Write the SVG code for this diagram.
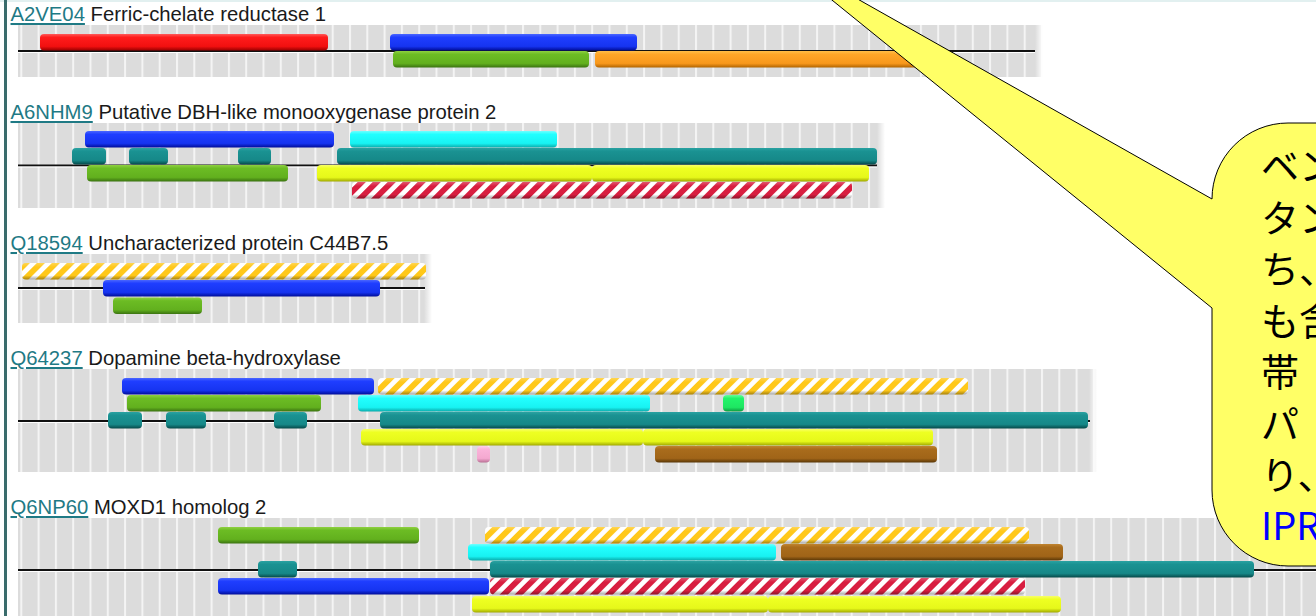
<svg xmlns="http://www.w3.org/2000/svg" width="1316" height="616" viewBox="0 0 1316 616">
  <style>
    .title { font-family: "Liberation Sans", Arial, sans-serif; font-size: 20.3px; fill: #1a1a1a; }
    .acc { fill: #1f7a85; text-decoration: underline; }
    .grid { fill: url(#ruler); }
    .seq { stroke: #111; stroke-width: 2; }
    .seqhi { stroke: #ffffff; stroke-width: 1; }
    .bar { rx: 4; ry: 4; }
    .red { fill: url(#gRed); }
    .blue { fill: url(#gBlue); }
    .green { fill: url(#gGreen); }
    .orange { fill: url(#gOrange); }
    .cyan { fill: url(#gCyan); }
    .teal { fill: url(#gTeal); }
    .yellow { fill: url(#gYellow); }
    .brown { fill: url(#gBrown); }
    .lime { fill: url(#gLime); }
    .pink { fill: url(#gPink); }
    .ystripe { fill: url(#stripeY); }
    .rstripe { fill: url(#stripeR); }
    .shade { fill: url(#gShade); }
    .callout { fill: #ffff66; stroke: #000; stroke-width: 1; }
    .note { font-family: "Noto Sans CJK JP", "Noto Sans", sans-serif; font-size: 38px; fill: #000; }
    .note-link { fill: #0000ff; }
  </style>
  <defs>
    <!-- ruler background: grey cells with light separators -->
    <pattern id="ruler" x="20.3" y="0" width="17.3" height="10" patternUnits="userSpaceOnUse">
      <rect width="17.3" height="10" fill="#dcdcdc"/>
      <rect width="2" height="10" fill="#f4f4f4"/>
    </pattern>
    <linearGradient id="fade" x1="0" y1="0" x2="1" y2="0">
      <stop offset="0" stop-color="#fff" stop-opacity="0"/>
      <stop offset="1" stop-color="#fff" stop-opacity="1"/>
    </linearGradient>
    <!-- bar shading gradients -->
    <linearGradient id="gRed" x1="0" y1="0" x2="0" y2="1">
      <stop offset="0" stop-color="#ff5a5a"/><stop offset="0.2" stop-color="#ff1c1c"/><stop offset="0.75" stop-color="#f21010"/><stop offset="1" stop-color="#9a0000"/>
    </linearGradient>
    <linearGradient id="gBlue" x1="0" y1="0" x2="0" y2="1">
      <stop offset="0" stop-color="#4a66ff"/><stop offset="0.2" stop-color="#1f3eff"/><stop offset="0.75" stop-color="#1634f0"/><stop offset="1" stop-color="#000c98"/>
    </linearGradient>
    <linearGradient id="gGreen" x1="0" y1="0" x2="0" y2="1">
      <stop offset="0" stop-color="#8fd040"/><stop offset="0.2" stop-color="#6cbc24"/><stop offset="0.75" stop-color="#62b01e"/><stop offset="1" stop-color="#3a7210"/>
    </linearGradient>
    <linearGradient id="gOrange" x1="0" y1="0" x2="0" y2="1">
      <stop offset="0" stop-color="#ffbe48"/><stop offset="0.2" stop-color="#ffa628"/><stop offset="0.75" stop-color="#f8981c"/><stop offset="1" stop-color="#b06400"/>
    </linearGradient>
    <linearGradient id="gCyan" x1="0" y1="0" x2="0" y2="1">
      <stop offset="0" stop-color="#70ffff"/><stop offset="0.2" stop-color="#22ffff"/><stop offset="0.75" stop-color="#18f2f2"/><stop offset="1" stop-color="#0aaaaa"/>
    </linearGradient>
    <linearGradient id="gTeal" x1="0" y1="0" x2="0" y2="1">
      <stop offset="0" stop-color="#2aa2a2"/><stop offset="0.2" stop-color="#1a9292"/><stop offset="0.75" stop-color="#168888"/><stop offset="1" stop-color="#064848"/>
    </linearGradient>
    <linearGradient id="gYellow" x1="0" y1="0" x2="0" y2="1">
      <stop offset="0" stop-color="#f8ff66"/><stop offset="0.2" stop-color="#eeff22"/><stop offset="0.75" stop-color="#e6f81a"/><stop offset="1" stop-color="#a0a800"/>
    </linearGradient>
    <linearGradient id="gBrown" x1="0" y1="0" x2="0" y2="1">
      <stop offset="0" stop-color="#c08430"/><stop offset="0.2" stop-color="#a96c1c"/><stop offset="0.75" stop-color="#a06418"/><stop offset="1" stop-color="#583606"/>
    </linearGradient>
    <linearGradient id="gLime" x1="0" y1="0" x2="0" y2="1">
      <stop offset="0" stop-color="#66ff99"/><stop offset="0.2" stop-color="#22f46a"/><stop offset="0.75" stop-color="#1ee662"/><stop offset="1" stop-color="#0c9a40"/>
    </linearGradient>
    <linearGradient id="gPink" x1="0" y1="0" x2="0" y2="1">
      <stop offset="0" stop-color="#ffd0ea"/><stop offset="0.2" stop-color="#fab4da"/><stop offset="0.75" stop-color="#f4a8d0"/><stop offset="1" stop-color="#b87094"/>
    </linearGradient>
    <linearGradient id="gShade" x1="0" y1="0" x2="0" y2="1">
      <stop offset="0" stop-color="#fff" stop-opacity="0.25"/><stop offset="0.25" stop-color="#fff" stop-opacity="0"/><stop offset="0.75" stop-color="#000" stop-opacity="0"/><stop offset="1" stop-color="#000" stop-opacity="0.35"/>
    </linearGradient>
    <!-- diagonal hatching for striped features -->
    <pattern id="stripeY" width="10.6" height="10.6" patternUnits="userSpaceOnUse" patternTransform="rotate(45)">
      <rect width="10.6" height="10.6" fill="#ffffff"/>
      <rect width="5.8" height="10.6" fill="#ffc81a"/>
    </pattern>
    <pattern id="stripeR" width="10.6" height="10.6" patternUnits="userSpaceOnUse" patternTransform="rotate(45)">
      <rect width="10.6" height="10.6" fill="#ffffff"/>
      <rect width="5.8" height="10.6" fill="#d81e40"/>
    </pattern>
  </defs>

  <rect width="1316" height="616" fill="#ffffff"/>
  <!-- page frame -->
  <rect x="0" y="0" width="1316" height="2" fill="#e2f0f0"/>
  <rect x="4" y="0" width="3" height="616" fill="#3a6c6c"/>

  <!-- A2VE04 -->
  <g id="row-A2VE04">
    <text class="title" x="10.5" y="21"><tspan class="acc">A2VE04</tspan> Ferric-chelate reductase 1</text>
    <rect class="grid" x="18" y="25" width="1025" height="52"/>
    <rect x="1035" y="25" width="8" height="52" fill="url(#fade)"/>
    <line class="seq" x1="18" y1="51" x2="1035" y2="51"/>
    <line class="seqhi" x1="18" y1="52.5" x2="1035" y2="52.5"/>
    <rect class="bar red" x="40" y="34" width="288" height="16.5"/>
    <rect class="bar blue" x="390" y="34" width="247" height="16.5"/>
    <rect class="bar green" x="393" y="51" width="196" height="16.5"/>
    <rect class="bar orange" x="595" y="51" width="345" height="16.5"/>
  </g>

  <!-- A6NHM9 -->
  <g id="row-A6NHM9">
    <text class="title" x="10.5" y="119"><tspan class="acc">A6NHM9</tspan> Putative DBH-like monooxygenase protein 2</text>
    <rect class="grid" x="18" y="123" width="867" height="85"/>
    <rect x="877" y="123" width="8" height="85" fill="url(#fade)"/>
    <line class="seq" x1="18" y1="165.5" x2="877" y2="165.5"/>
    <line class="seqhi" x1="18" y1="167" x2="877" y2="167"/>
    <rect class="bar blue" x="85" y="131" width="249" height="16.5"/>
    <rect class="bar cyan" x="350" y="131" width="207" height="16.5"/>
    <rect class="bar teal" x="72" y="148" width="34" height="16.5"/>
    <rect class="bar teal" x="129" y="148" width="39" height="16.5"/>
    <rect class="bar teal" x="238" y="148" width="33" height="16.5"/>
    <rect class="bar teal" x="337" y="148" width="540" height="16.5"/>
    <rect class="bar green" x="87" y="165" width="201" height="16.5"/>
    <rect class="bar yellow" x="317" y="165" width="275" height="16.5"/>
    <rect class="bar yellow" x="592" y="165" width="277" height="16.5"/>
    <rect class="bar rstripe" x="352" y="182" width="500" height="16.5"/>
    <rect class="bar shade" x="352" y="182" width="500" height="16.5"/>
  </g>

  <!-- Q18594 -->
  <g id="row-Q18594">
    <text class="title" x="10.5" y="250"><tspan class="acc">Q18594</tspan> Uncharacterized protein C44B7.5</text>
    <rect class="grid" x="18" y="254" width="414" height="69"/>
    <rect x="424" y="254" width="8" height="69" fill="url(#fade)"/>
    <line class="seq" x1="18" y1="288" x2="425" y2="288"/>
    <line class="seqhi" x1="18" y1="289.5" x2="425" y2="289.5"/>
    <rect class="bar ystripe" x="22" y="263" width="404" height="16.5"/>
    <rect class="bar shade" x="22" y="263" width="404" height="16.5"/>
    <rect class="bar blue" x="103" y="280" width="277" height="16.5"/>
    <rect class="bar green" x="113" y="297.5" width="89" height="16.5"/>
  </g>

  <!-- Q64237 -->
  <g id="row-Q64237">
    <text class="title" x="10.5" y="365"><tspan class="acc">Q64237</tspan> Dopamine beta-hydroxylase</text>
    <rect class="grid" x="18" y="369" width="1079" height="103"/>
    <rect x="1089" y="369" width="8" height="103" fill="url(#fade)"/>
    <line class="seq" x1="18" y1="421" x2="1090" y2="421"/>
    <line class="seqhi" x1="18" y1="422.5" x2="1090" y2="422.5"/>
    <rect class="bar blue" x="122" y="378" width="252" height="16.5"/>
    <rect class="bar ystripe" x="378" y="378" width="590" height="16.5"/>
    <rect class="bar shade" x="378" y="378" width="590" height="16.5"/>
    <rect class="bar green" x="127" y="395" width="194" height="16.5"/>
    <rect class="bar cyan" x="358" y="395" width="292" height="16.5"/>
    <rect class="bar lime" x="723" y="395" width="21" height="16.5"/>
    <rect class="bar teal" x="108" y="412" width="34" height="16.5"/>
    <rect class="bar teal" x="166" y="412" width="40" height="16.5"/>
    <rect class="bar teal" x="274" y="412" width="33" height="16.5"/>
    <rect class="bar teal" x="380" y="412" width="708" height="16.5"/>
    <rect class="bar yellow" x="361" y="429" width="282" height="16.5"/>
    <rect class="bar yellow" x="643" y="429" width="290" height="16.5"/>
    <rect class="bar pink" x="477" y="446" width="13" height="16.5"/>
    <rect class="bar brown" x="655" y="446" width="282" height="16.5"/>
  </g>

  <!-- Q6NP60 -->
  <g id="row-Q6NP60">
    <text class="title" x="10.5" y="514"><tspan class="acc">Q6NP60</tspan> MOXD1 homolog 2</text>
    <rect class="grid" x="18" y="518" width="1298" height="98"/>
    <line class="seq" x1="18" y1="570" x2="1316" y2="570"/>
    <line class="seqhi" x1="18" y1="571.5" x2="1316" y2="571.5"/>
    <rect class="bar green" x="218" y="527" width="201" height="16.5"/>
    <rect class="bar ystripe" x="485" y="527" width="544" height="16.5"/>
    <rect class="bar shade" x="485" y="527" width="544" height="16.5"/>
    <rect class="bar cyan" x="468" y="544" width="308" height="16.5"/>
    <rect class="bar brown" x="781" y="544" width="282" height="16.5"/>
    <rect class="bar teal" x="258" y="561" width="39" height="16.5"/>
    <rect class="bar teal" x="490" y="561" width="764" height="16.5"/>
    <rect class="bar blue" x="218" y="578" width="271" height="16.5"/>
    <rect class="bar rstripe" x="490" y="578" width="535" height="16.5"/>
    <rect class="bar shade" x="490" y="578" width="535" height="16.5"/>
    <rect class="bar yellow" x="472" y="596" width="296" height="16.5"/>
    <rect class="bar yellow" x="768" y="596" width="293" height="16.5"/>
  </g>

  <!-- annotation balloon with its pointer -->
  <g id="note">
    <path class="callout" d="M1212,308 L769,-51 L1212,199 A76,76 0 0 1 1288,123 L1400,123 L1400,566 L1288,566 A76,76 0 0 1 1212,490 Z"/>
    <text class="note" x="1261" y="180">ベン</text>
    <text class="note" x="1261" y="231.5">タン</text>
    <text class="note" x="1261" y="283">ち、</text>
    <text class="note" x="1261" y="334.5">も含</text>
    <text class="note" x="1261" y="386">帯</text>
    <text class="note" x="1261" y="437.5">パ</text>
    <text class="note" x="1261" y="489">り、</text>
    <text class="note note-link" x="1261" y="540">IPR</text>
  </g>
</svg>
